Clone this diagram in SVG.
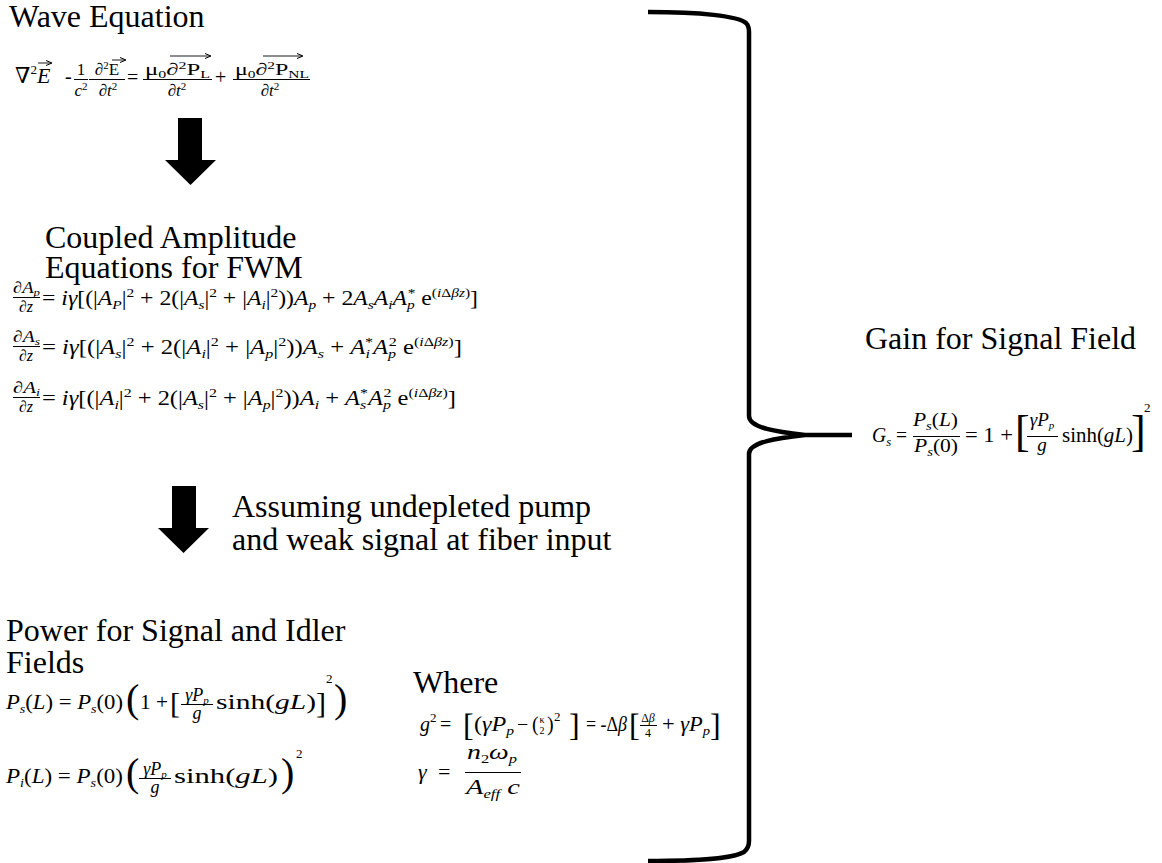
<svg xmlns="http://www.w3.org/2000/svg" width="1162" height="863" viewBox="0 0 1162 863">
<style>
text{font-family:"Liberation Serif","Times New Roman","DejaVu Serif",serif;fill:#000}
.ti{font-size:32px}
.m{font-size:20px}
.f{font-size:16px}
.w{font-size:17px}
.s{font-size:13px}
.ss{font-size:11px}
.i{font-style:italic}
.n{font-style:normal}
.bar{stroke:#000;stroke-width:1;fill:none}
.vec{stroke:#000;stroke-width:0.9;fill:none;marker-end:url(#vh)}
.arrow{fill:#000}
.brace{fill:none;stroke:#000;stroke-width:4.5;stroke-linejoin:round}
</style>
<defs>
<marker id="vh" viewBox="0 0 6 6" refX="5" refY="3" markerWidth="6" markerHeight="6" markerUnits="userSpaceOnUse" orient="auto">
<path d="M0,0.5 L6,3 L0,5.5" fill="none" stroke="#000" stroke-width="1"/>
</marker>
</defs>
<rect width="1162" height="863" fill="#fff"/>

<g id="wave-equation">
<text class="ti" x="9" y="27">Wave Equation</text>
<text x="15" y="83" style="font-size:22px">∇<tspan class="s" dy="-9">2</tspan><tspan class="i" dy="9">E</tspan></text>
<path class="vec" d="M38,63 H51"/>
<text class="m" x="65" y="83">-</text>
<text class="w" x="81" y="75" text-anchor="middle">1</text>
<path class="bar" d="M74,79.5 H88"/>
<text class="w i" x="81" y="96" text-anchor="middle">c<tspan class="ss n" dy="-6">2</tspan></text>
<text class="w" x="107" y="75" text-anchor="middle">∂<tspan class="ss" dy="-6">2</tspan><tspan dy="6">E</tspan></text>
<path class="vec" d="M112,60 H125"/>
<path class="bar" d="M89,79.5 H125"/>
<text class="w" x="108" y="96" text-anchor="middle">∂<tspan class="i">t</tspan><tspan class="ss" dy="-6">2</tspan></text>
<text class="m" x="127" y="84">=</text>
<text class="w" x="145" y="75" textLength="65" lengthAdjust="spacingAndGlyphs">μ<tspan class="ss" dy="3">0</tspan><tspan dy="-3">∂</tspan><tspan class="ss" dy="-6">2</tspan><tspan dy="6">P</tspan><tspan class="ss" dy="3">L</tspan></text>
<path class="vec" d="M170,56 H210"/>
<path class="bar" d="M143,79.5 H212"/>
<text class="w" x="177" y="96" text-anchor="middle">∂<tspan class="i">t</tspan><tspan class="ss" dy="-6">2</tspan></text>
<text class="m" x="215" y="84">+</text>
<text class="w" x="235" y="75" textLength="74" lengthAdjust="spacingAndGlyphs">μ<tspan class="ss" dy="3">0</tspan><tspan dy="-3">∂</tspan><tspan class="ss" dy="-6">2</tspan><tspan dy="6">P</tspan><tspan class="ss" dy="3">NL</tspan></text>
<path class="vec" d="M263,56 H302"/>
<path class="bar" d="M233,79.5 H310"/>
<text class="w" x="270" y="96" text-anchor="middle">∂<tspan class="i">t</tspan><tspan class="ss" dy="-6">2</tspan></text>
</g>

<g id="coupled-equations">
<text class="ti" x="45" y="248">Coupled Amplitude</text>
<text class="ti" x="45" y="278">Equations for FWM</text>
<!-- eq1 -->
<text class="f" x="13" y="293" textLength="27" lengthAdjust="spacingAndGlyphs">∂<tspan class="i">A</tspan><tspan class="ss i" dy="3">p</tspan></text>
<path class="bar" d="M13,297.5 H40"/>
<text class="f" x="26" y="312" text-anchor="middle">∂<tspan class="i">z</tspan></text>
<text class="m" x="42" y="305" textLength="436" lengthAdjust="spacingAndGlyphs">= <tspan class="i">iγ</tspan>[(|<tspan class="i">A</tspan><tspan class="s i" dy="4">P</tspan><tspan dy="-4">|</tspan><tspan class="s" dy="-8">2</tspan><tspan dy="8"> + 2(|</tspan><tspan class="i">A</tspan><tspan class="s i" dy="4">s</tspan><tspan dy="-4">|</tspan><tspan class="s" dy="-8">2</tspan><tspan dy="8"> +  |</tspan><tspan class="i">A</tspan><tspan class="s i" dy="4">i</tspan><tspan dy="-4">|</tspan><tspan class="s" dy="-8">2</tspan><tspan dy="8">))</tspan><tspan class="i">A</tspan><tspan class="s i" dy="4">p</tspan><tspan dy="-4"> + 2</tspan><tspan class="i">A</tspan><tspan class="s i" dy="4">s</tspan><tspan class="i" dy="-4">A</tspan><tspan class="s i" dy="4">i</tspan><tspan class="i" dy="-4">A</tspan><tspan class="s i" dy="4">p</tspan><tspan class="s" dx="-6" dy="-12">*</tspan><tspan dy="8"> e</tspan><tspan class="s" dy="-8">(<tspan class="i">i</tspan>Δ<tspan class="i">βz</tspan>)</tspan><tspan dy="8">]</tspan></text>
<!-- eq2 -->
<text class="f" x="13" y="342" textLength="27" lengthAdjust="spacingAndGlyphs">∂<tspan class="i">A</tspan><tspan class="ss i" dy="3">s</tspan></text>
<path class="bar" d="M13,346.5 H40"/>
<text class="f" x="26" y="361" text-anchor="middle">∂<tspan class="i">z</tspan></text>
<text class="m" x="42" y="354" textLength="420" lengthAdjust="spacingAndGlyphs">= <tspan class="i">iγ</tspan>[(|<tspan class="i">A</tspan><tspan class="s i" dy="4">s</tspan><tspan dy="-4">|</tspan><tspan class="s" dy="-8">2</tspan><tspan dy="8"> + 2(|</tspan><tspan class="i">A</tspan><tspan class="s i" dy="4">i</tspan><tspan dy="-4">|</tspan><tspan class="s" dy="-8">2</tspan><tspan dy="8"> +  |</tspan><tspan class="i">A</tspan><tspan class="s i" dy="4">p</tspan><tspan dy="-4">|</tspan><tspan class="s" dy="-8">2</tspan><tspan dy="8">))</tspan><tspan class="i">A</tspan><tspan class="s i" dy="4">s</tspan><tspan dy="-4"> + </tspan><tspan class="i">A</tspan><tspan class="s i" dy="4">i</tspan><tspan class="s" dx="-4" dy="-12">*</tspan><tspan class="i" dy="8">A</tspan><tspan class="s i" dy="4">p</tspan><tspan class="s" dx="-6" dy="-12">2</tspan><tspan dy="8"> e</tspan><tspan class="s" dy="-8">(<tspan class="i">i</tspan>Δ<tspan class="i">βz</tspan>)</tspan><tspan dy="8">]</tspan></text>
<!-- eq3 -->
<text class="f" x="13" y="393" textLength="27" lengthAdjust="spacingAndGlyphs">∂<tspan class="i">A</tspan><tspan class="ss i" dy="3">i</tspan></text>
<path class="bar" d="M13,397.5 H40"/>
<text class="f" x="26" y="412" text-anchor="middle">∂<tspan class="i">z</tspan></text>
<text class="m" x="42" y="405" textLength="414" lengthAdjust="spacingAndGlyphs">= <tspan class="i">iγ</tspan>[(|<tspan class="i">A</tspan><tspan class="s i" dy="4">i</tspan><tspan dy="-4">|</tspan><tspan class="s" dy="-8">2</tspan><tspan dy="8"> + 2(|</tspan><tspan class="i">A</tspan><tspan class="s i" dy="4">s</tspan><tspan dy="-4">|</tspan><tspan class="s" dy="-8">2</tspan><tspan dy="8"> + |</tspan><tspan class="i">A</tspan><tspan class="s i" dy="4">p</tspan><tspan dy="-4">|</tspan><tspan class="s" dy="-8">2</tspan><tspan dy="8">))</tspan><tspan class="i">A</tspan><tspan class="s i" dy="4">i</tspan><tspan dy="-4"> + </tspan><tspan class="i">A</tspan><tspan class="s i" dy="4">s</tspan><tspan class="s" dx="-5" dy="-12">*</tspan><tspan class="i" dy="8">A</tspan><tspan class="s i" dy="4">p</tspan><tspan class="s" dx="-6" dy="-12">2</tspan><tspan dy="8"> e</tspan><tspan class="s" dy="-8">(<tspan class="i">i</tspan>Δ<tspan class="i">βz</tspan>)</tspan><tspan dy="8">]</tspan></text>
</g>

<g id="assumption">
<text class="ti" x="232" y="517">Assuming undepleted pump</text>
<text class="ti" x="232" y="550">and weak signal at fiber input</text>
</g>

<g id="power-equations">
<text class="ti" x="6" y="641">Power for Signal and Idler</text>
<text class="ti" x="6" y="673">Fields</text>
<!-- P_s -->
<text x="6" y="709" style="font-size:21px" textLength="117" lengthAdjust="spacingAndGlyphs"><tspan class="i">P</tspan><tspan class="s i" dy="4">s</tspan><tspan dy="-4">(</tspan><tspan class="i">L</tspan>) = <tspan class="i">P</tspan><tspan class="s i" dy="4">s</tspan><tspan dy="-4">(0)</tspan></text>
<text x="126" y="712" style="font-size:40px">(</text>
<text x="140" y="709" style="font-size:21px" textLength="28" lengthAdjust="spacingAndGlyphs">1 +</text>
<text x="170" y="713" style="font-size:30px">[</text>
<text x="197" y="701" text-anchor="middle" style="font-size:18px"><tspan class="i">γP</tspan><tspan class="ss i" dy="3">p</tspan></text>
<path class="bar" d="M181,704.5 H213"/>
<text class="i" x="197" y="719" text-anchor="middle" style="font-size:18px">g</text>
<text x="216" y="709" style="font-size:21px" textLength="100" lengthAdjust="spacingAndGlyphs">sinh(<tspan class="i">gL</tspan>)</text>
<text x="316" y="713" style="font-size:30px">]</text>
<text class="s" x="326" y="683">2</text>
<text x="334" y="712" style="font-size:40px">)</text>
<!-- P_i -->
<text x="6" y="783" style="font-size:21px" textLength="117" lengthAdjust="spacingAndGlyphs"><tspan class="i">P</tspan><tspan class="s i" dy="4">i</tspan><tspan dy="-4">(</tspan><tspan class="i">L</tspan>) = <tspan class="i">P</tspan><tspan class="s i" dy="4">s</tspan><tspan dy="-4">(0)</tspan></text>
<text x="126" y="786" style="font-size:40px">(</text>
<text x="155" y="775" text-anchor="middle" style="font-size:18px"><tspan class="i">γP</tspan><tspan class="ss i" dy="3">p</tspan></text>
<path class="bar" d="M139,778.5 H171"/>
<text class="i" x="155" y="793" text-anchor="middle" style="font-size:18px">g</text>
<text x="174" y="783" style="font-size:21px" textLength="104" lengthAdjust="spacingAndGlyphs">sinh(<tspan class="i">gL</tspan>)</text>
<text x="281" y="786" style="font-size:40px">)</text>
<text class="s" x="296" y="758">2</text>
</g>

<g id="where-definitions">
<text class="ti" x="413" y="693">Where</text>
<!-- g^2 -->
<text class="m i" x="420" y="731">g<tspan class="s n" dy="-9">2</tspan></text>
<text class="m" x="440" y="731">=</text>
<text x="463" y="736" style="font-size:32px">[</text>
<text class="m" x="474" y="731" textLength="40" lengthAdjust="spacingAndGlyphs">(<tspan class="i">γP</tspan><tspan class="s i" dy="4">p</tspan></text>
<text class="m" x="517" y="731">−</text>
<text class="m" x="532" y="731">(</text>
<text x="542" y="723" text-anchor="middle" style="font-size:10px">κ</text>
<text x="542" y="734" text-anchor="middle" style="font-size:10px">2</text>
<text class="m" x="547" y="731">)</text>
<text class="s" x="554" y="721">2</text>
<text x="569" y="736" style="font-size:32px">]</text>
<text class="m" x="586" y="731" textLength="41" lengthAdjust="spacingAndGlyphs">= -Δ<tspan class="i">β</tspan></text>
<text x="629" y="736" style="font-size:32px">[</text>
<text x="648" y="722" text-anchor="middle" style="font-size:12px">Δ<tspan class="i">β</tspan></text>
<path class="bar" d="M640,725.5 H657"/>
<text x="648" y="737" text-anchor="middle" style="font-size:12px">4</text>
<text class="m" x="662" y="731" textLength="48" lengthAdjust="spacingAndGlyphs">+ <tspan class="i">γP</tspan><tspan class="s i" dy="4">p</tspan></text>
<text x="710" y="736" style="font-size:32px">]</text>
<!-- gamma -->
<text class="i" x="418" y="779" style="font-size:22px">γ</text>
<text x="438" y="779" style="font-size:22px">=</text>
<text x="467" y="759" style="font-size:22px" textLength="50" lengthAdjust="spacingAndGlyphs"><tspan class="i">n</tspan><tspan class="s" dy="4">2</tspan><tspan class="i" dy="-4">ω</tspan><tspan class="s i" dy="4">p</tspan></text>
<path class="bar" d="M465,772.5 H521"/>
<text x="466" y="794" style="font-size:22px" textLength="54" lengthAdjust="spacingAndGlyphs"><tspan class="i">A</tspan><tspan class="s i" dy="4">eff</tspan><tspan class="i" dy="-4"> c</tspan></text>
</g>

<g id="gain-signal">
<text class="ti" x="865" y="349">Gain for Signal Field</text>
<text class="m" x="872" y="442" textLength="35" lengthAdjust="spacingAndGlyphs"><tspan class="i">G</tspan><tspan class="s i" dy="4">s</tspan><tspan dy="-4"> =</tspan></text>
<text x="913" y="426" style="font-size:19px" textLength="45" lengthAdjust="spacingAndGlyphs"><tspan class="i">P</tspan><tspan class="s i" dy="4">s</tspan><tspan dy="-4">(</tspan><tspan class="i">L</tspan>)</text>
<path class="bar" d="M913,436.5 H960"/>
<text x="914" y="452" style="font-size:19px" textLength="44" lengthAdjust="spacingAndGlyphs"><tspan class="i">P</tspan><tspan class="s i" dy="4">s</tspan><tspan dy="-4">(0)</tspan></text>
<text class="m" x="965" y="442" textLength="48" lengthAdjust="spacingAndGlyphs">= 1 +</text>
<text x="1015" y="446" style="font-size:44px">[</text>
<text x="1042" y="426" text-anchor="middle" style="font-size:19px"><tspan class="i">γP</tspan><tspan class="ss i" dy="3">p</tspan></text>
<path class="bar" d="M1027,436.5 H1058"/>
<text class="i" x="1042" y="451" text-anchor="middle" style="font-size:19px">g</text>
<text class="m" x="1062" y="442" textLength="71" lengthAdjust="spacingAndGlyphs">sinh(<tspan class="i">gL</tspan>)</text>
<text x="1131" y="446" style="font-size:44px">]</text>
<text class="s" x="1144" y="412">2</text>
</g>

<g id="connectors">
<path class="arrow" d="M178,118 H202 V160 H216 L190.5,185 L165,160 H178 Z"/>
<path class="arrow" d="M172,486 H196 V528 H209 L183.5,553 L158,528 H172 Z"/>
<path class="brace" d="M648,12 C700,12 738,16 746,23 Q749,26 749,32 L749,416 C749,428 778,432 805,435 L852,435 M805,435 C778,438 749,442 749,454 L749,841 Q749,848 744,852 C734,858 700,861 648,861"/>
</g>
</svg>
